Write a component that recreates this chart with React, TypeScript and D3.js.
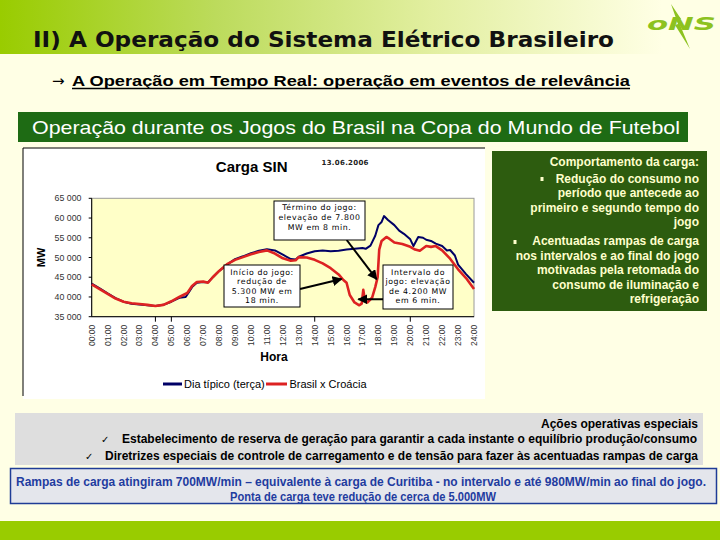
import React from "react";
import * as d3 from "d3";

// ---------- DATA ----------
const typicalHours = [0, 0.5, 1, 1.5, 2, 2.5, 3, 3.5, 4, 4.5, 5, 5.5, 5.9, 6.1, 6.3, 6.6, 7, 7.3, 7.6, 8, 8.5, 9, 9.5, 10, 10.5, 11, 11.5, 12, 12.5, 12.8, 13, 13.5, 14, 14.5, 15, 15.5, 16, 16.5, 17, 17.2, 17.5, 17.8, 18, 18.2, 18.35, 18.6, 19, 19.3, 19.6, 20, 20.2, 20.5, 20.8, 21, 21.3, 21.6, 22, 22.3, 22.5, 22.8, 23, 23.5, 24];
const typicalMW = [43400, 42200, 40900, 39700, 38800, 38300, 38100, 37900, 37700, 38000, 38800, 39800, 40000, 41200, 42500, 43600, 43800, 43700, 45000, 46600, 48200, 49600, 50300, 51100, 51700, 52100, 51800, 50700, 49600, 49500, 50200, 51000, 51600, 51800, 51600, 51700, 52000, 52200, 52400, 52200, 53000, 55500, 58200, 59000, 60500, 59500, 58200, 56800, 56000, 54600, 52900, 55200, 55000, 54500, 54200, 53500, 52900, 51800, 51900, 50500, 48200, 45800, 43600];

const matchHours = [0, 0.5, 1, 1.5, 2, 2.5, 3, 3.5, 4, 4.5, 5, 5.5, 6, 6.3, 6.6, 7, 7.3, 7.6, 8, 8.5, 9, 9.5, 10, 10.5, 11, 11.5, 12, 12.5, 12.8, 13, 13.5, 14, 14.5, 15, 15.5, 15.8, 16, 16.2, 16.5, 16.8, 16.95, 17.05, 17.15, 17.3, 17.6, 17.8, 17.95, 18.05, 18.2, 18.5, 18.7, 19, 19.5, 20, 20.3, 20.6, 21, 21.3, 21.6, 22, 22.5, 23, 23.5, 24];
const matchMW = [43200, 42000, 40800, 39600, 38800, 38400, 38200, 38000, 37700, 38000, 38900, 40000, 41000, 42800, 43800, 43900, 43600, 45000, 46600, 48300, 49400, 50100, 50800, 51400, 51800, 51000, 49800, 49200, 49300, 50100, 50000, 49400, 48500, 47300, 45700, 44300, 43600, 40500, 38600, 37900, 38300, 41800, 39200, 38600, 39800, 42500, 45000, 52000, 54200, 55200, 54700, 53800, 53400, 52700, 52000, 51700, 52900, 52700, 52900, 51800, 49700, 47000, 44800, 42000];

const yTicks = [35000, 40000, 45000, 50000, 55000, 60000, 65000];
const hourLabels = ["00:00", "01:00", "02:00", "03:00", "04:00", "05:00", "06:00", "07:00", "08:00", "09:00", "10:00", "11:00", "12:00", "13:00", "14:00", "15:00", "16:00", "17:00", "18:00", "19:00", "20:00", "21:00", "22:00", "23:00", "24:00"];
const tickMarkHours = [4, 5, 14, 20];

const seriesNames = ["Dia típico (terça)", "Brasil x Croácia"];

const annotationLines = [
  ["Término do jogo:", "elevação de 7.800", "MW em 8 min."],
  ["Início do jogo:", "redução de", "5.300 MW em", "18 min."],
  ["Intervalo do", "jogo: elevação", "de 4.200 MW", "em 6 min."],
];
const annotationHours = [17.89, 15.69, 16.74];
const annotationMW = [44480, 44550, 39410];

const sideLines = [
  "Comportamento da carga:",
  "Redução do consumo no",
  "período que antecede ao",
  "primeiro e segundo tempo do",
  "jogo",
  "Acentuadas rampas de carga",
  "nos intervalos e ao final do jogo",
  "motivadas pela retomada do",
  "consumo de iluminação e",
  "refrigeração",
];

// ---------- LAYOUT ----------
const PLOT = { left: 91.7, right: 474, top: 198.3, bottom: 316.7 };
const annBoxes = [
  { x: 274, y: 201, w: 91, h: 39, fromX: 346.7, fromY: 240, lineY: [210, 220, 230] },
  { x: 224, y: 265, w: 76, h: 42, fromX: 300, fromY: 289, lineY: [274.5, 284, 293.5, 303] },
  { x: 383, y: 265, w: 70, h: 44, fromX: 383, fromY: 299.3, lineY: [274.5, 284, 293.5, 303] },
];
const sideBaselines = [166, 182.5, 197, 211.5, 226, 245, 259.5, 274, 288.5, 303];

const NARROW = "'Liberation Sans', Arial, sans-serif";

export default function App() {
  const x = d3.scaleLinear().domain([0, 24]).range([PLOT.left, PLOT.right]);
  const y = d3.scaleLinear().domain([35000, 65000]).range([PLOT.bottom, PLOT.top]);

  const line = d3
    .line<[number, number]>()
    .x((d) => x(d[0]))
    .y((d) => y(d[1]));

  const typicalPath = line(typicalHours.map((h, i) => [h, typicalMW[i]] as [number, number])) || "";
  const matchPath = line(matchHours.map((h, i) => [h, matchMW[i]] as [number, number])) || "";

  const fmt = (v: number) => d3.format(",")(v).replace(",", " ");

  return (
    <svg
      width={720}
      height={540}
      style={{ position: "absolute", left: 0, top: 0, display: "block" }}
      fontFamily={NARROW}
    >
      <defs>
        <linearGradient id="hdr" x1="0" x2="1" y1="0" y2="0">
          <stop offset="0" stopColor="#99CC00" />
          <stop offset="0.3" stopColor="#BCDB5C" />
          <stop offset="0.6" stopColor="#E2EFA0" />
          <stop offset="0.92" stopColor="#FFFFE5" />
        </linearGradient>
        <marker id="arr" viewBox="0 0 10 10" refX="9" refY="5" markerWidth="5" markerHeight="5" orient="auto">
          <path d="M0,0 L10,5 L0,10 Z" fill="#000" />
        </marker>
      </defs>

      {/* background */}
      <rect x={0} y={0} width={720} height={540} fill="#FFFFE5" />
      <rect x={0} y={0} width={720} height={54} fill="url(#hdr)" />
      <rect x={0} y={521} width={720} height={19} fill="#99CC00" />

      {/* title */}
      <text
        x={33}
        y={47}
        fontFamily="'DejaVu Sans', Verdana, sans-serif"
        fontWeight="bold"
        fontSize={22}
        fill="#111"
        textLength={581}
        lengthAdjust="spacingAndGlyphs"
      >
        II) A Operação do Sistema Elétrico Brasileiro
      </text>

      {/* logo */}
      <polygon points="671,4 681,19 678,20 690,49 675,25 678,24" fill="#8DC21F" />
      <text
        x={647}
        y={30}
        fontFamily="'DejaVu Sans', Verdana, sans-serif"
        fontWeight="bold"
        fontStyle="italic"
        fontSize={18}
        fill="#8DC21F"
        textLength={69}
        lengthAdjust="spacingAndGlyphs"
      >
        oNS
      </text>

      {/* subtitle */}
      <text x={52} y={86} fontFamily="'DejaVu Sans', sans-serif" fontSize={15} fill="#000">→</text>
      <text
        x={72}
        y={86}
        fontSize={15.5}
        fontWeight="bold"
        fill="#000"
        textLength={558}
        lengthAdjust="spacingAndGlyphs"
      >
        A Operação em Tempo Real: operação em eventos de relevância
      </text>
      <line x1={72} x2={630} y1={88.5} y2={88.5} stroke="#000" strokeWidth={1.3} />

      {/* green band */}
      <rect x={18} y={112} width={670} height={30} fill="#1E6B14" />
      <text
        x={32}
        y={134}
        fontSize={19}
        fill="#FFFFFF"
        textLength={648}
        lengthAdjust="spacingAndGlyphs"
      >
        Operação durante os Jogos do Brasil na Copa do Mundo de Futebol
      </text>

      {/* chart container */}
      <rect x={23} y={148} width={462} height={251} fill="#FFFFFF" />
      <line x1={23} x2={485} y1={148} y2={148} stroke="#000" strokeWidth={1} />
      <line x1={23} x2={23} y1={148} y2={396} stroke="#000" strokeWidth={1} />

      <text x={251.7} y={172} textAnchor="middle" fontSize={15} fontWeight="bold" fill="#000">
        Carga SIN
      </text>
      <text
        x={321.5}
        y={164.5}
        fontFamily="'DejaVu Sans', sans-serif"
        fontSize={7}
        fontWeight="bold"
        letterSpacing={0.3}
        fill="#222"
      >
        13.06.2006
      </text>

      {/* plot area */}
      <rect
        x={PLOT.left}
        y={PLOT.top}
        width={PLOT.right - PLOT.left}
        height={PLOT.bottom - PLOT.top}
        fill="#FFFFC8"
        stroke="#9A9A9A"
        strokeWidth={1}
      />
      <line x1={PLOT.left} x2={PLOT.left} y1={PLOT.top} y2={PLOT.bottom} stroke="#000" strokeWidth={1} />
      <line x1={PLOT.left} x2={PLOT.right} y1={PLOT.bottom} y2={PLOT.bottom} stroke="#000" strokeWidth={1} />

      {/* y axis */}
      {yTicks.map((t) => (
        <g key={t}>
          <line x1={PLOT.left - 3} x2={PLOT.left} y1={y(t)} y2={y(t)} stroke="#000" />
          <text x={81.5} y={y(t) + 3} textAnchor="end" fontSize={8.8} fill="#333">
            {fmt(t)}
          </text>
        </g>
      ))}
      <text
        transform={`translate(44.5,257.5) rotate(-90)`}
        textAnchor="middle"
        fontSize={11}
        fontWeight="bold"
        fill="#000"
      >
        MW
      </text>

      {/* x axis */}
      {tickMarkHours.map((h) => (
        <line key={h} x1={x(h)} x2={x(h)} y1={PLOT.bottom} y2={PLOT.bottom + 5} stroke="#000" />
      ))}
      {hourLabels.map((lab, i) => (
        <text
          key={lab}
          transform={`translate(${x(i) + 3},${PLOT.bottom + 8}) rotate(-90)`}
          textAnchor="end"
          fontSize={8.5}
          fill="#333"
        >
          {lab}
        </text>
      ))}
      <text x={274} y={361} textAnchor="middle" fontSize={12} fontWeight="bold" fill="#000">
        Hora
      </text>

      {/* series */}
      <path d={typicalPath} fill="none" stroke="#000066" strokeWidth={2} strokeLinejoin="round" />
      <path d={matchPath} fill="none" stroke="#DD2222" strokeWidth={2.6} strokeLinejoin="round" />

      {/* annotations */}
      {annBoxes.map((b, i) => (
        <g key={i}>
          <line
            x1={b.fromX}
            y1={b.fromY}
            x2={x(annotationHours[i])}
            y2={y(annotationMW[i])}
            stroke="#000"
            strokeWidth={2}
            markerEnd="url(#arr)"
          />
          <rect x={b.x} y={b.y} width={b.w} height={b.h} fill="#FFFFFF" stroke="#000" strokeWidth={1} />
          {annotationLines[i].map((t, j) => (
            <text
              key={j}
              x={b.x + b.w / 2}
              y={b.lineY[j]}
              textAnchor="middle"
              fontFamily="'DejaVu Sans', sans-serif"
              fontSize={7.8}
              letterSpacing={0.6}
              fill="#000"
            >
              {t}
            </text>
          ))}
        </g>
      ))}

      {/* legend */}
      <line x1={163} x2={182} y1={384} y2={384} stroke="#000066" strokeWidth={3} />
      <text x={184} y={387.8} fontSize={11} fill="#000">{seriesNames[0]}</text>
      <line x1={266} x2={287} y1={384} y2={384} stroke="#DD2222" strokeWidth={3} />
      <text x={289.5} y={387.8} fontSize={11} fill="#000">{seriesNames[1]}</text>

      {/* side box */}
      <rect x={492} y={151} width={215} height={160} fill="#2D5C0F" />
      <rect x={540.5} y={177} width={3} height={4} fill="#FFFFCC" />
      <rect x={513.5} y={240} width={3} height={4} fill="#FFFFCC" />
      {sideLines.map((t, i) => (
        <text key={i} x={699} y={sideBaselines[i]} textAnchor="end" fontSize={12} fontWeight="bold" fill="#FFFFCC">
          {t}
        </text>
      ))}

      {/* grey box */}
      <rect x={15} y={413} width={688} height={52} fill="#DEDEDE" />
      <text x={698} y={427.5} textAnchor="end" fontSize={12} fontWeight="bold" fill="#000" textLength={157} lengthAdjust="spacingAndGlyphs">
        Ações operativas especiais
      </text>
      <text x={101} y={442.5} fontFamily="'DejaVu Sans', sans-serif" fontSize={10} fill="#000">✓</text>
      <text x={122} y={442.5} fontSize={12} fontWeight="bold" fill="#000" textLength={575} lengthAdjust="spacingAndGlyphs">
        Estabelecimento de reserva de geração para garantir a cada instante o equilíbrio produção/consumo
      </text>
      <text x={85} y={459.5} fontFamily="'DejaVu Sans', sans-serif" fontSize={10} fill="#000">✓</text>
      <text x={105} y={459.5} fontSize={12} fontWeight="bold" fill="#000" textLength={593} lengthAdjust="spacingAndGlyphs">
        Diretrizes especiais de controle de carregamento e de tensão para fazer às acentuadas rampas de carga
      </text>

      {/* blue box */}
      <rect x={10.5} y={468.5} width={706} height={35} fill="#E4E6EC" stroke="#1F3C96" strokeWidth={1.5} />
      <text x={16} y={486} fontSize={12} fontWeight="bold" fill="#1F3CA0" textLength={690} lengthAdjust="spacingAndGlyphs">
        Rampas de carga atingiram 700MW/min – equivalente à carga de Curitiba - no intervalo e até 980MW/min ao final do jogo.
      </text>
      <text x={363} y={500.5} textAnchor="middle" fontSize={12} fontWeight="bold" fill="#1F3CA0" textLength={266} lengthAdjust="spacingAndGlyphs">
        Ponta de carga teve redução de cerca de 5.000MW
      </text>
    </svg>
  );
}
